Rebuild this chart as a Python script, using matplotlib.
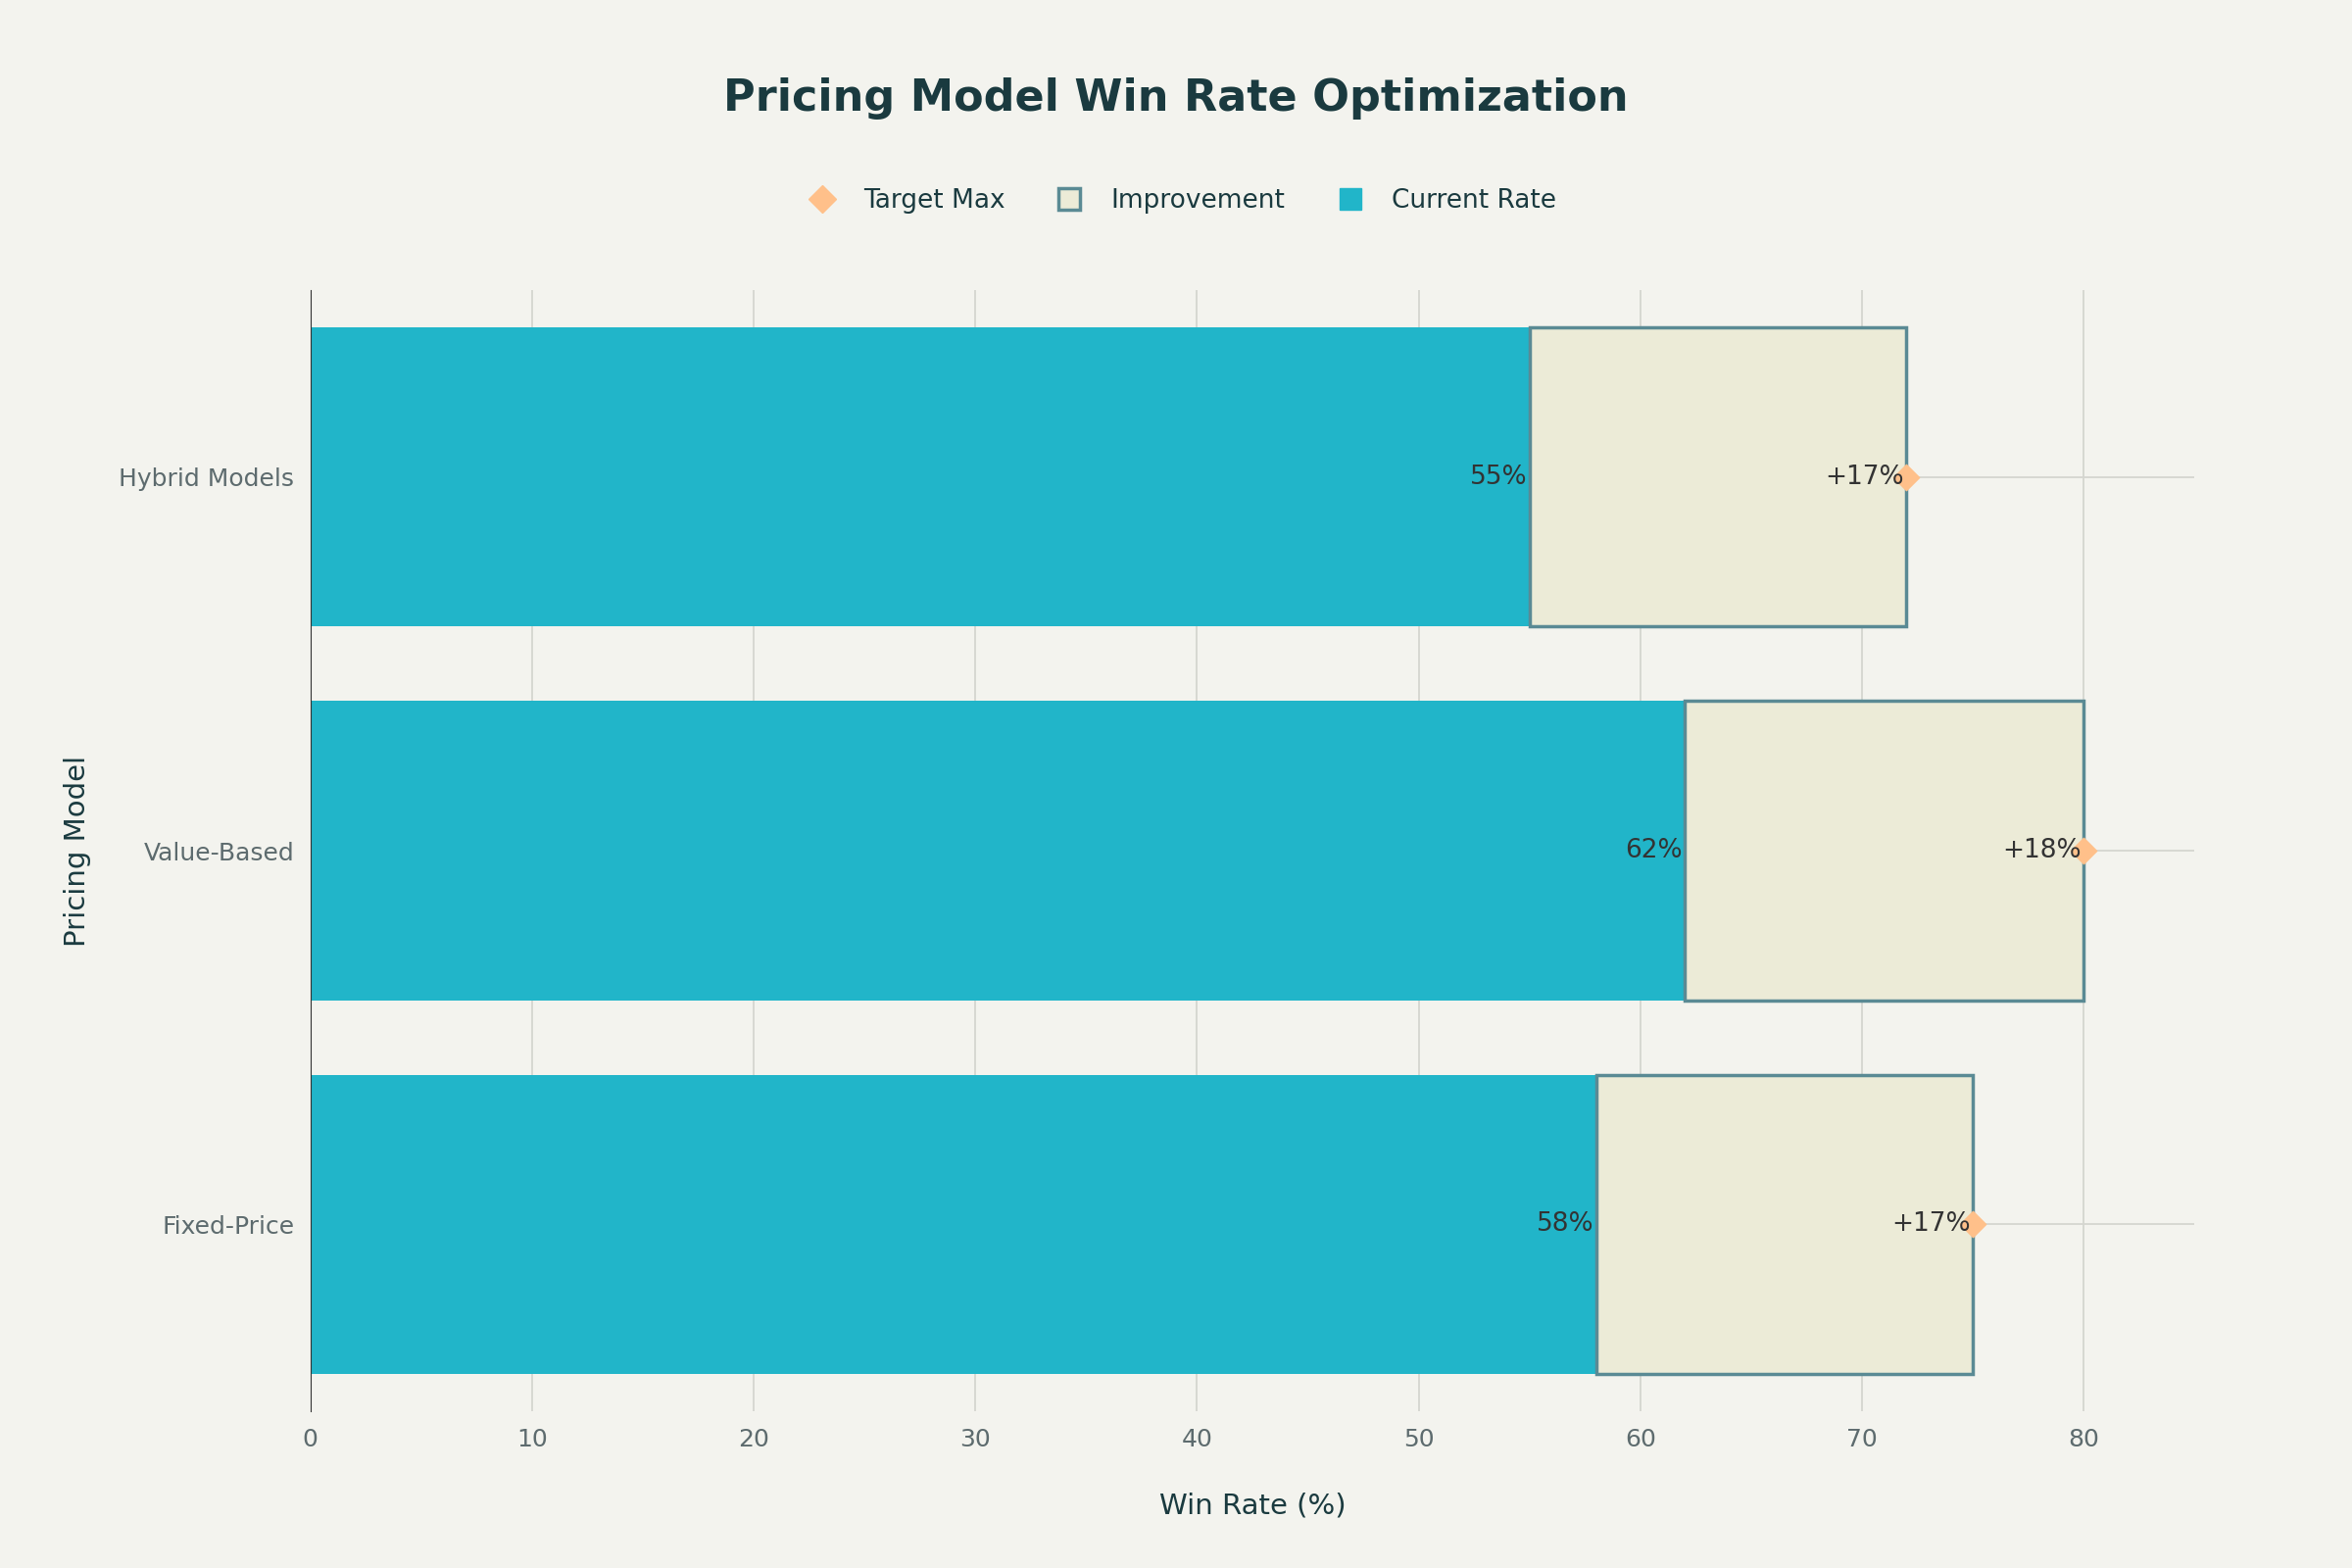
import matplotlib.pyplot as plt
from matplotlib.lines import Line2D

models = ["Fixed-Price", "Value-Based", "Hybrid Models"]
current = [58, 62, 55]
improvement = [17, 18, 17]
target = [75, 80, 72]

bg = "#F3F3EE"
teal = "#21B5C9"
fill = "#ECEBD7"
edge = "#5A8A94"
orange = "#FFC08A"
txt = "#1A3A3F"

plt.rcParams["font.family"] = "DejaVu Sans"
fig = plt.figure(figsize=(24, 16), dpi=100, facecolor=bg)
ax = fig.add_axes([0.132, 0.1, 0.801, 0.715], facecolor=bg)

y = list(range(len(models)))
ax.barh(y, current, height=0.8, color=teal, zorder=2)
ax.barh(y, improvement, left=current, height=0.8, color=fill,
        edgecolor=edge, linewidth=2.5, zorder=2)
ax.scatter(target, y, marker="D", s=180, color=orange, zorder=4)

for yi, c, imp, t in zip(y, current, improvement, target):
    ax.text(c - 0.1, yi, f"{c}%", ha="right", va="center", fontsize=19, color="#333333", zorder=5)
    ax.text(t - 0.1, yi, f"+{imp}%", ha="right", va="center", fontsize=19, color="#333333", zorder=5)

ax.set_xlim(0, 85)
ax.set_ylim(-0.5, 2.5)
ax.set_xticks(range(0, 90, 10))
ax.set_yticks(y)
ax.set_yticklabels(models)
ax.grid(True, color="#D5D6D0", linewidth=1.3, zorder=0)
ax.tick_params(length=0, labelsize=18, labelcolor="#5D6B6E", pad=12)
for s in ["top", "right", "bottom"]:
    ax.spines[s].set_visible(False)
ax.spines["left"].set_color("#333333")
ax.set_xlabel("Win Rate (%)", fontsize=21, color=txt, labelpad=30)
ax.set_ylabel("Pricing Model", fontsize=21, color=txt, labelpad=20)

fig.text(0.5, 0.937, "Pricing Model Win Rate Optimization", ha="center", va="center",
         fontsize=32, fontweight="bold", color=txt)

handles = [
    Line2D([], [], marker="D", linestyle="none", markersize=14, color=orange, label="Target Max"),
    Line2D([], [], marker="s", linestyle="none", markersize=16, markerfacecolor=fill,
           markeredgecolor=edge, markeredgewidth=2.5, label="Improvement"),
    Line2D([], [], marker="s", linestyle="none", markersize=16, color=teal, label="Current Rate"),
]
fig.legend(handles=handles, loc="center", bbox_to_anchor=(0.5, 0.872), ncol=3, frameon=False,
           fontsize=19, labelcolor=txt, handletextpad=0.6, columnspacing=1.5)

fig.savefig("out.png", dpi=100, facecolor=bg)
